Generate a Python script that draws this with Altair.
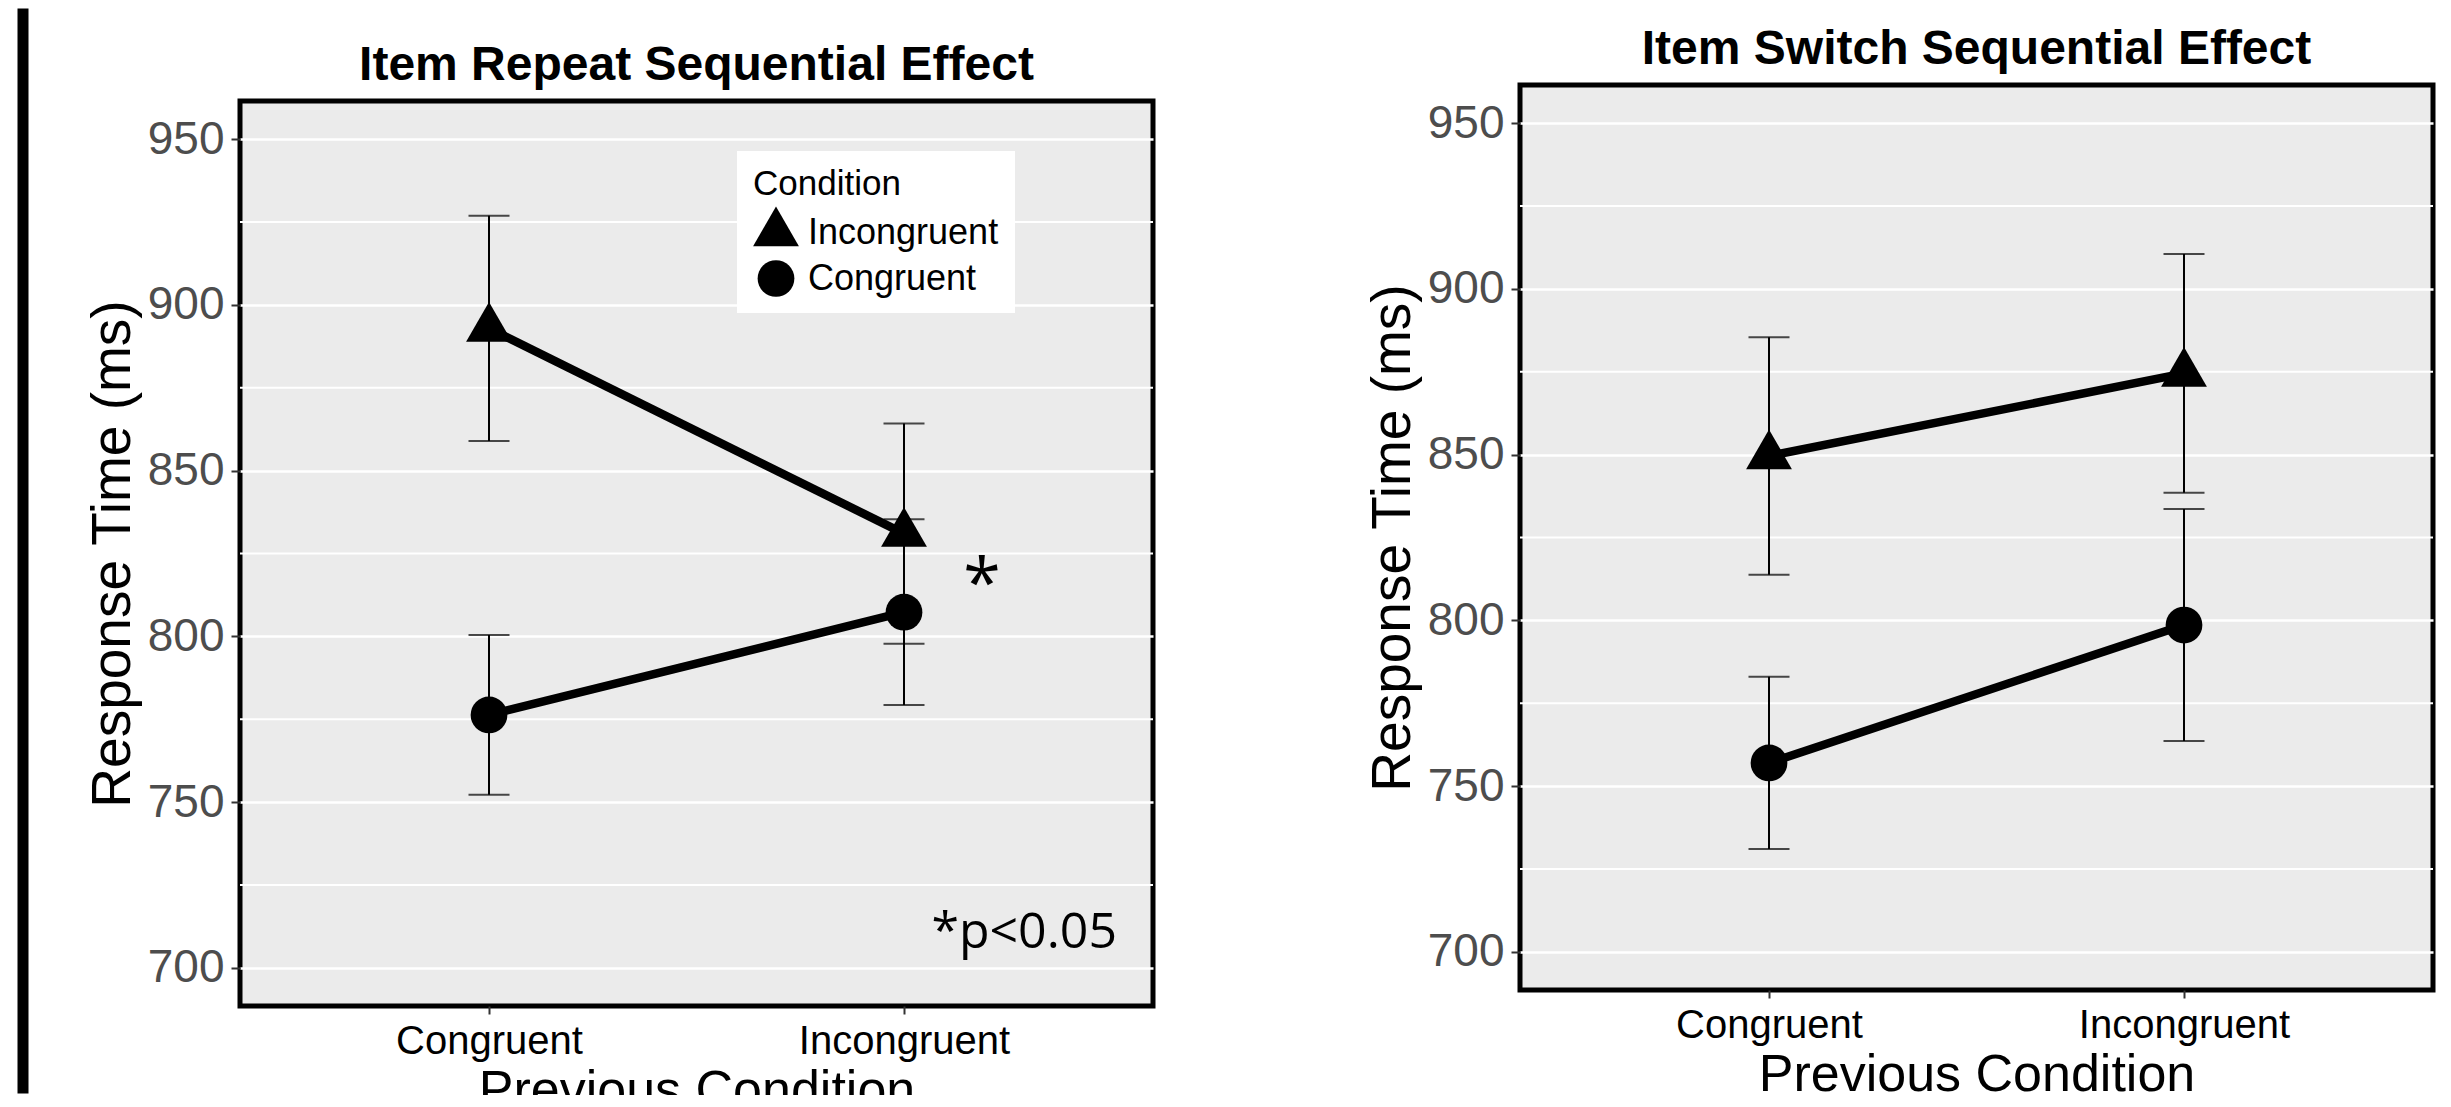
import altair as alt
import pandas as pd

# ---- data ----
prev_conditions = ["Congruent", "Incongruent"]
conditions = ["Incongruent", "Congruent"]

repeat_incongruent = [892.9, 831.0]
repeat_incongruent_err = [34.0, 33.2]
repeat_congruent = [776.3, 807.3]
repeat_congruent_err = [24.1, 28.0]

switch_incongruent = [849.6, 874.5]
switch_incongruent_err = [35.8, 36.0]
switch_congruent = [757.0, 798.6]
switch_congruent_err = [26.0, 35.0]

y_major = [700, 750, 800, 850, 900, 950]
y_minor = [725, 775, 825, 875, 925]
y_domain = [688.5, 961.5]

sig_text = ["*"]
sig_prev = ["Incongruent"]
sig_rt = [809]
note_text = ["*p<0.05"]
note_prev = ["Incongruent"]
note_rt = [706]

TRI = "M0,-1.1547L1,0.5774L-1,0.5774Z"
FONT = "Liberation Sans"


def make_df(inc, inc_err, con, con_err):
    df = pd.DataFrame({
        "prev": prev_conditions * 2,
        "cond": ["Incongruent"] * 2 + ["Congruent"] * 2,
        "rt": inc + con,
        "err": inc_err + con_err,
    })
    df["lo"] = df["rt"] - df["err"]
    df["hi"] = df["rt"] + df["err"]
    return df


X_AXIS = alt.Axis(title="Previous Condition", labelAngle=0, labelFontSize=40,
                  labelColor="black", labelFont=FONT, tickSize=8, tickWidth=2,
                  tickColor="#333333", labelPadding=7, labelLimit=600, titleFontSize=52,
                  titleFont=FONT, titleFontWeight="normal", titleColor="black",
                  titlePadding=4, grid=False, domain=False)
Y_AXIS = alt.Axis(title="Response Time (ms)", values=y_major, labelFontSize=46,
                  labelColor="#4D4D4D", labelFont=FONT, tickSize=9, tickWidth=2,
                  tickColor="#333333", labelPadding=7, titleFontSize=55,
                  titleFont=FONT, titleFontWeight="normal", titleColor="black",
                  titlePadding=6, grid=True, gridColor="white", gridWidth=2.5,
                  domain=False)


def panel(title, df, show_legend, show_notes):
    xs = alt.Scale(type="point", padding=0.6, domain=prev_conditions)
    ys = alt.Scale(domain=y_domain, nice=False, zero=False)
    X = alt.X("prev:N", scale=xs, axis=X_AXIS)

    def Y(f):
        return alt.Y(f, scale=ys, axis=Y_AXIS)

    minor = alt.Chart(pd.DataFrame({"v": y_minor})).mark_rule(
        color="white", strokeWidth=1.8).encode(y=Y("v:Q"))

    base = alt.Chart(df)
    bars = base.mark_rule(color="black", strokeWidth=2).encode(
        x=X, y=Y("lo:Q"), y2="hi:Q")
    cap_lo = base.mark_tick(color="black", size=41, thickness=2, orient="horizontal").encode(
        x=X, y=Y("lo:Q"))
    cap_hi = base.mark_tick(color="black", size=41, thickness=2, orient="horizontal").encode(
        x=X, y=Y("hi:Q"))
    line = base.mark_line(color="black", strokeWidth=8.5).encode(
        x=X, y=Y("rt:Q"), detail="cond:N")

    if show_legend:
        leg = alt.Legend(title="Condition", orient="none", legendX=497, legendY=50,
                         fillColor="white", padding=16, titleFontSize=35, titleFont=FONT,
                         titleFontWeight="normal", titleColor="black", labelFontSize=36,
                         labelFont=FONT, labelColor="black", symbolFillColor="black",
                         symbolStrokeWidth=0, symbolOpacity=1, rowPadding=9,
                         labelOffset=9, titlePadding=8, labelLimit=500)
        leg2 = leg
    else:
        leg = None
        leg2 = None
    pts = base.mark_point(filled=True, opacity=1, color="black").encode(
        x=X, y=Y("rt:Q"),
        shape=alt.Shape("cond:N", scale=alt.Scale(domain=conditions, range=[TRI, "circle"]),
                        legend=leg),
        size=alt.Size("cond:N", scale=alt.Scale(domain=conditions, range=[2100, 1350]),
                      legend=leg2),
    )
    layers = [minor, bars, cap_lo, cap_hi, line, pts]
    if show_notes:
        sig = alt.Chart(pd.DataFrame({"prev": sig_prev, "rt": sig_rt, "t": sig_text})).mark_text(
            font="Open Sans", fontSize=68, color="black", dx=78, align="center",
            baseline="alphabetic").encode(x=X, y=Y("rt:Q"), text="t:N")
        note = alt.Chart(pd.DataFrame({"prev": note_prev, "rt": note_rt, "t": note_text})).mark_text(
            font="Open Sans", fontSize=50, color="black", dx=213, align="right",
            baseline="alphabetic").encode(x=X, y=Y("rt:Q"), text="t:N")
        layers += [sig, note]
    return alt.layer(*layers).properties(
        width=913, height=905,
        title=alt.TitleParams(title, fontSize=48, font=FONT, fontWeight="bold",
                              color="black", offset=11, anchor="middle"),
        view=alt.ViewBackground(fill="#EBEBEB", stroke="black", strokeWidth=5),
    )


def spacer(h, w=1, fill="transparent"):
    return alt.Chart(pd.DataFrame({"a": [0]})).mark_rule(opacity=0).encode(
        x=alt.value(0), y=alt.value(0), y2=alt.value(1)
    ).properties(width=w, height=h,
                 view=alt.ViewBackground(fill=fill, stroke="transparent", strokeOpacity=0))


left = panel("Item Repeat Sequential Effect",
             make_df(repeat_incongruent, repeat_incongruent_err, repeat_congruent, repeat_congruent_err),
             True, True)
right = panel("Item Switch Sequential Effect",
              make_df(switch_incongruent, switch_incongruent_err, switch_congruent, switch_congruent_err),
              False, False)

IND = dict(shape="independent", size="independent")
left_col = alt.vconcat(spacer(31), left, spacing=0).resolve_scale(**IND).resolve_legend(**IND)
right_col = alt.vconcat(spacer(15), right, spacing=0).resolve_scale(**IND).resolve_legend(**IND)
bar = spacer(1085, w=11, fill="black")

inner = alt.hconcat(left_col, right_col, spacing=205).resolve_scale(**IND).resolve_legend(**IND)
chart = alt.hconcat(bar, inner, spacing=54).properties(
    padding={"left": 9, "top": 0, "right": 0, "bottom": -24}
).configure(font=FONT).resolve_scale(**IND).resolve_legend(**IND)

chart.save("out.html", embed_options={"renderer": "svg", "actions": False})
